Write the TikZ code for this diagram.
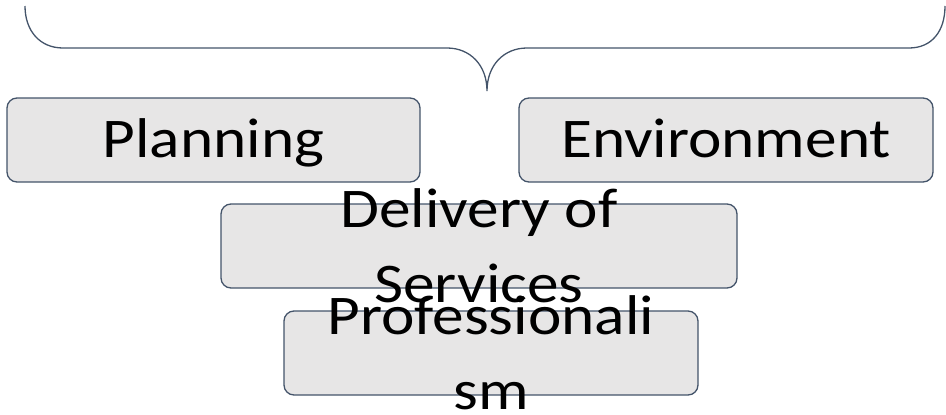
\documentclass[tikz,border=0pt]{standalone}
\usepackage{fontspec}
\setmainfont{Carlito}[FakeStretch=1.13]
\definecolor{edge}{HTML}{44546A}
\definecolor{boxfill}{HTML}{E7E6E6}
\tikzset{
  boxstyle/.style={draw=edge, fill=boxfill, line width=1.3pt, rounded corners=10pt, rectangle, inner sep=0pt},
  txt/.style={inner sep=0pt, align=center, text=black, font=\fontsize{56}{75}\selectfont},
  bracestyle/.style={draw=edge, line width=1.3pt}
}
\begin{document}
\begin{tikzpicture}[x=1pt,y=-1pt]
\useasboundingbox (0,0) rectangle (946,415);
% brace
\draw[bracestyle] (25,6) .. controls (25,31) and (40,48) .. (63,48) -- (447,48)
  .. controls (470,48) and (487,65) .. (487,91)
  .. controls (487,65) and (504,48) .. (527,48) -- (909,48)
  .. controls (932,48) and (945,31) .. (945,6);
% boxes
\node[boxstyle, minimum width=413pt, minimum height=84pt] (plan) at (213.5,140) {};
\node[boxstyle, minimum width=414pt, minimum height=84pt] (env) at (726,140) {};
\node[boxstyle, minimum width=516pt, minimum height=84pt] (del) at (479,246) {};
\node[boxstyle, minimum width=414pt, minimum height=84pt] (prof) at (491,353) {};
% texts
\node[txt, anchor=base] (plant) at (213.5,157) {Planning};
\node[txt, anchor=base] (envt) at (726,157) {Environment};
\node[txt] (delt) at (del.center) {Delivery of\\Services};
\node[txt] (proft) at (prof.center) {Professionali\\sm};
\end{tikzpicture}
\end{document}
